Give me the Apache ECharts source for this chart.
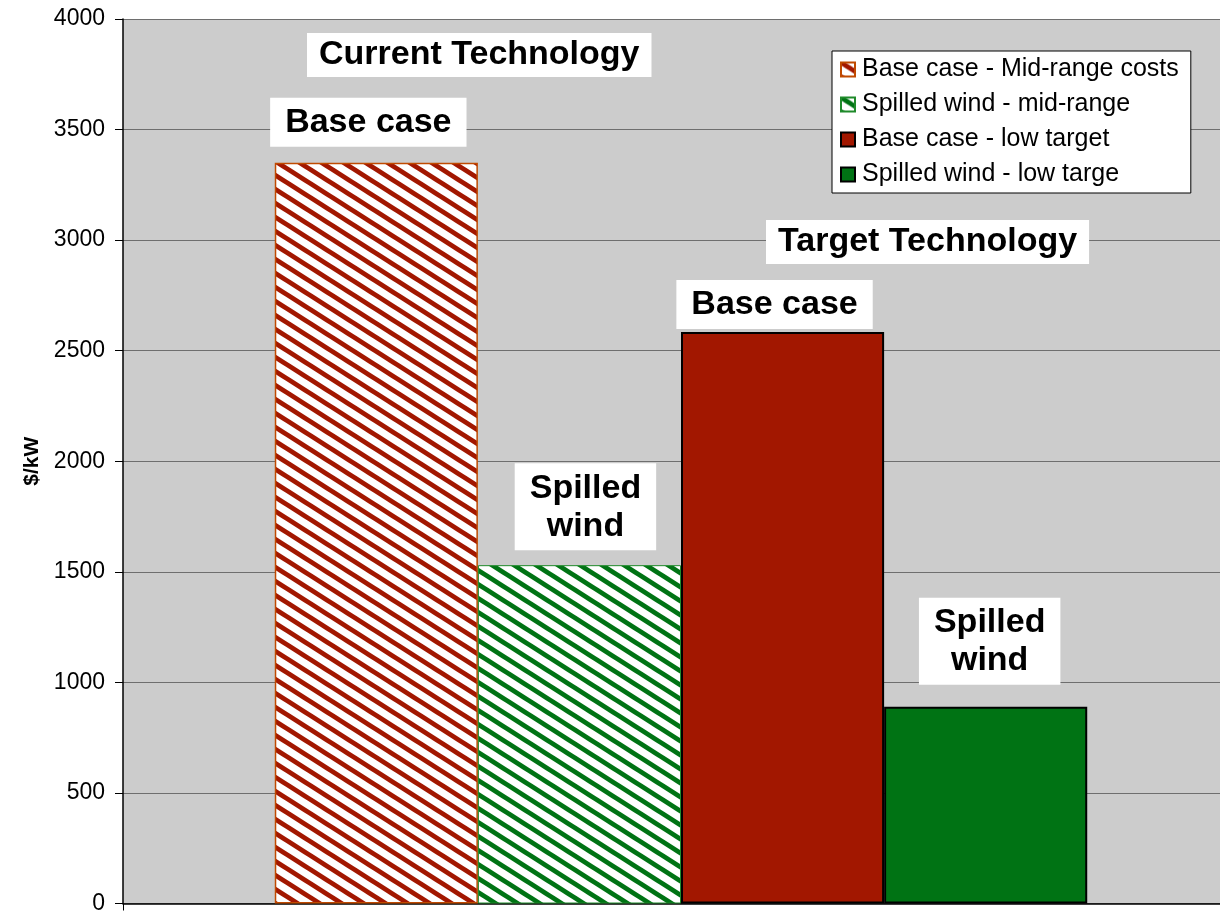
<!DOCTYPE html>
<html>
<head>
<meta charset="utf-8">
<script src="https://cdn.jsdelivr.net/npm/echarts@6/dist/echarts.min.js"></script>
<style>
  html, body { margin: 0; padding: 0; background: #fff; overflow: hidden; }
  /* plot area runs past the right edge of the picture */
  #chart { width: 1239px; height: 915px; }
</style>
</head>
<body>
<div id="chart"></div>
<script>
const categories = [""];
const seriesNames = [
  "Base case - Mid-range costs",
  "Spilled wind - mid-range",
  "Base case - low target",
  "Spilled wind - low targe",
];
const seriesValues = [3350, 1530, 2585, 890];
const barLabels = ["Base case", "Spilled\nwind", "Base case", "Spilled\nwind"];
const groupTitles = ["Current Technology", "Target Technology"];

const FONT = "Liberation Sans, Arial, sans-serif";
const RED = "#a21700";
const GREEN = "#007314";

// diagonal hatch like the excel "wide downward diagonal" fill
function stripes(color) {
  const c = document.createElement("canvas");
  c.width = 22;
  c.height = 14;
  const ctx = c.getContext("2d");
  ctx.fillStyle = "#fff";
  ctx.fillRect(0, 0, 22, 14);
  ctx.strokeStyle = color;
  ctx.lineWidth = 4.8;
  for (let k = -1; k <= 1; k++) {
    ctx.beginPath();
    ctx.moveTo(-22, -14 + k * 14);
    ctx.lineTo(44, 28 + k * 14);
    ctx.stroke();
  }
  return { image: c, repeat: "repeat" };
}

const styles = [
  { color: stripes(RED), borderColor: "#c04a00", borderWidth: 1.5 },
  { color: stripes(GREEN), borderColor: "#1f8a2a", borderWidth: 1 },
  { color: RED, borderColor: "#000", borderWidth: 2 },
  { color: GREEN, borderColor: "#000", borderWidth: 2 },
];
// label placement relative to each bar top
const labelPos = [
  { distance: 16, offset: [-8, 0] },
  { distance: 15, offset: [6, 0] },
  { distance: 3, offset: [-8, 0] },
  { distance: 22, offset: [4, 0] },
];

const chart = echarts.init(document.getElementById("chart"));

const titleBox = (text, left, top) => ({
  text: text,
  left: left,
  top: top,
  padding: [5, 12, 5, 12],
  backgroundColor: "#fff",
  textStyle: { fontFamily: FONT, fontSize: 34, fontWeight: "bold", color: "#000" },
});

const option = {
  backgroundColor: "#fff",
  animation: false,
  title: [titleBox(groupTitles[0], 307, 33), titleBox(groupTitles[1], 766, 220)],
  legend: {
    orient: "vertical",
    left: 832,
    top: 51,
    padding: [6, 12, 6, 8],
    itemGap: 10,
    itemWidth: 14,
    itemHeight: 14,
    backgroundColor: "#fff",
    borderColor: "#000",
    borderWidth: 1,
    borderRadius: 0,
    icon: "rect",
    textStyle: { fontFamily: FONT, fontSize: 25, color: "#000", padding: [0, 0, 0, 2] },
    data: seriesNames,
  },
  grid: {
    left: 123,
    right: 0,
    top: 19,
    bottom: 7,
    show: true,
    backgroundColor: "#cccccc",
    borderWidth: 0,
  },
  xAxis: {
    type: "category",
    data: categories,
    axisLine: { lineStyle: { color: "#000", width: 1.5 } },
    axisTick: { show: true, length: 7, lineStyle: { color: "#000" } },
    axisLabel: { show: false },
  },
  yAxis: {
    type: "value",
    min: 0,
    max: 4000,
    interval: 500,
    name: "$/kW",
    nameLocation: "middle",
    nameGap: 76,
    nameTextStyle: { fontFamily: FONT, fontSize: 21, fontWeight: "bold", color: "#000" },
    axisLine: { show: true, lineStyle: { color: "#000", width: 1.5 } },
    axisTick: { show: true, length: 8, lineStyle: { color: "#000" } },
    axisLabel: {
      fontFamily: FONT,
      fontSize: 23,
      color: "#000",
      margin: 18,
      formatter: (v) => String(v),
    },
    splitLine: { lineStyle: { color: "#6e6e6e", width: 1 } },
  },
  series: seriesNames.map((name, i) => ({
    type: "bar",
    name: name,
    data: [seriesValues[i]],
    barGap: "0%",
    barCategoryGap: "27.2%",
    itemStyle: styles[i],
    label: {
      show: true,
      position: "top",
      distance: labelPos[i].distance,
      offset: labelPos[i].offset,
      formatter: barLabels[i],
      backgroundColor: "#fff",
      padding: [6, 15, 5, 15],
      fontFamily: FONT,
      fontSize: 34,
      fontWeight: "bold",
      lineHeight: 38,
      color: "#000",
    },
  })),
};

chart.setOption(option);
</script>
</body>
</html>
